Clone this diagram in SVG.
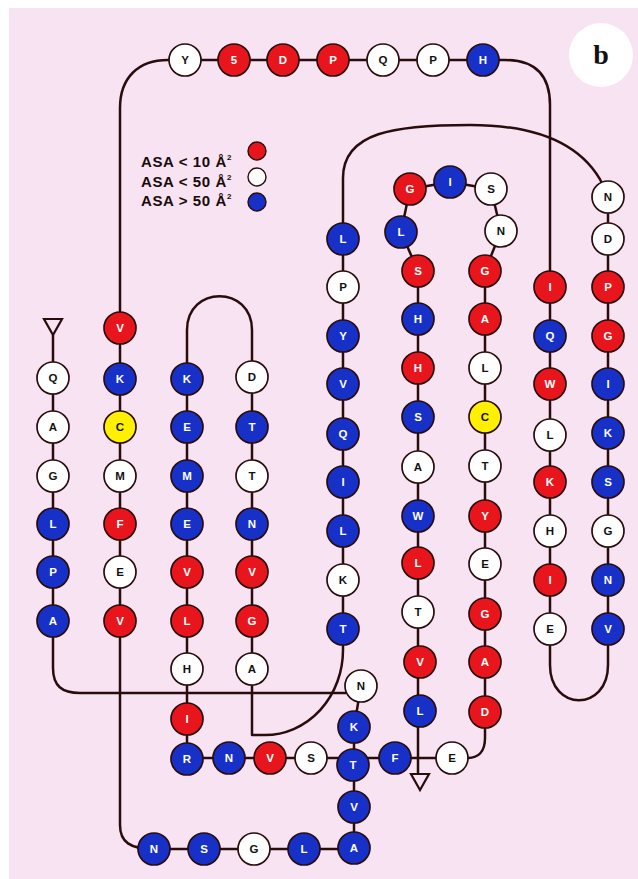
<svg xmlns="http://www.w3.org/2000/svg" width="638" height="879" viewBox="0 0 638 879">
<style>
.ln{fill:none;stroke:#2a0c0c;stroke-width:2.5;stroke-linejoin:round}
.term{fill:none;stroke:#2a0c0c;stroke-width:2.2}
.nd circle{stroke:#2a0c0c;stroke-width:1.7}
.r circle{fill:#e8161c}.b circle{fill:#1630c8}.w circle{fill:#ffffff}.y circle{fill:#fff000}
.nd text{font-family:"Liberation Sans",Arial,sans-serif;font-weight:bold;font-size:11.5px;text-anchor:middle;dominant-baseline:central}
.r text,.b text{fill:#ffffff}.w text,.y text{fill:#111111}
.lg{font-family:"Liberation Sans",Arial,sans-serif;font-weight:bold;font-size:15px;letter-spacing:0.6px;fill:#1a0a0a;text-anchor:end}
</style>
<rect x="0" y="0" width="638" height="879" fill="#ffffff"/>
<rect x="9" y="8" width="629" height="871" fill="#f7e3f1"/>

<!-- label badge -->
<g id="badge">
<circle cx="601" cy="55" r="32" fill="#ffffff"/>
<text x="601" y="64" font-family="Liberation Serif,serif" font-weight="bold" font-size="28" text-anchor="middle" fill="#111">b</text>
</g>

<!-- legend -->
<g id="legend">
<text class="lg" x="232" y="167">ASA &lt; 10 Å<tspan font-size="8" dy="-7">2</tspan></text>
<text class="lg" x="232" y="187">ASA &lt; 50 Å<tspan font-size="8" dy="-7">2</tspan></text>
<text class="lg" x="232" y="206">ASA &gt; 50 Å<tspan font-size="8" dy="-7">2</tspan></text>
<circle cx="257" cy="151" r="9" fill="#e8161c" stroke="#2a0c0c" stroke-width="1.4"/>
<circle cx="257" cy="177" r="9" fill="#ffffff" stroke="#2a0c0c" stroke-width="1.4"/>
<circle cx="257" cy="202" r="9" fill="#1630c8" stroke="#2a0c0c" stroke-width="1.4"/>
</g>

<!-- backbone connectors -->
<g id="connectors">
<polygon class="term" points="44,319 62,319 53,335"/>
<path class="ln" d="M53,335 L53,668 C53,686 62,693 80,693 L346,693"/>
<path class="ln" d="M361,686 L354,727 L354,849 L154,849 C130,849 120,842 120,825 L120,108 C120,78 138,60 168,60 L505,60 C535,60 550,75 550,105 L550,665 C550,712 608,712 608,665 L608,197"/>
<path class="ln" d="M608,197 L603,185 C583,145 540,125 470,125 C395,125 343,132 343,178 L343,650 A78,85 0 0 1 265,735 L252,735 L252,330 C252,285 187,285 187,330 L187,758 L468,758 C478,758 485,752 485,738 L485,271 L501,231 L491,189 L450,182 L410,189 L401,232 L418,271 L418,774"/>
<polygon class="term" points="411,774 429,774 420,790"/>
</g>

<!-- residues -->
<g id="top-row">
<g id="r-Y1" class="nd w" transform="translate(185,60)"><circle r="16"/><text>Y</text></g>
<g id="r-S2" class="nd r" transform="translate(234,60)"><circle r="16"/><text>5</text></g>
<g id="r-D3" class="nd r" transform="translate(283,60)"><circle r="16"/><text>D</text></g>
<g id="r-P4" class="nd r" transform="translate(333,60)"><circle r="16"/><text>P</text></g>
<g id="r-Q5" class="nd w" transform="translate(383,60)"><circle r="16"/><text>Q</text></g>
<g id="r-P6" class="nd w" transform="translate(433,60)"><circle r="16"/><text>P</text></g>
<g id="r-H7" class="nd b" transform="translate(483,60)"><circle r="16"/><text>H</text></g>
</g>

<g id="strand-1">
<g id="s1-Q" class="nd w" transform="translate(53,378)"><circle r="16"/><text>Q</text></g>
<g id="s1-A" class="nd w" transform="translate(53,427)"><circle r="16"/><text>A</text></g>
<g id="s1-G" class="nd w" transform="translate(53,476)"><circle r="16"/><text>G</text></g>
<g id="s1-L" class="nd b" transform="translate(53,524)"><circle r="16"/><text>L</text></g>
<g id="s1-P" class="nd b" transform="translate(53,572)"><circle r="16"/><text>P</text></g>
<g id="s1-A2" class="nd b" transform="translate(53,621)"><circle r="16"/><text>A</text></g>
</g>

<g id="strand-2">
<g id="s2-V" class="nd r" transform="translate(120,328)"><circle r="16"/><text>V</text></g>
<g id="s2-K" class="nd b" transform="translate(120,379)"><circle r="16"/><text>K</text></g>
<g id="s2-C" class="nd y" transform="translate(120,427)"><circle r="16"/><text>C</text></g>
<g id="s2-M" class="nd w" transform="translate(120,476)"><circle r="16"/><text>M</text></g>
<g id="s2-F" class="nd r" transform="translate(120,524)"><circle r="16"/><text>F</text></g>
<g id="s2-E" class="nd w" transform="translate(120,572)"><circle r="16"/><text>E</text></g>
<g id="s2-V2" class="nd r" transform="translate(120,621)"><circle r="16"/><text>V</text></g>
</g>

<g id="strand-3">
<g id="s3-K" class="nd b" transform="translate(187,379)"><circle r="16"/><text>K</text></g>
<g id="s3-E" class="nd b" transform="translate(187,427)"><circle r="16"/><text>E</text></g>
<g id="s3-M" class="nd b" transform="translate(187,476)"><circle r="16"/><text>M</text></g>
<g id="s3-E2" class="nd b" transform="translate(187,524)"><circle r="16"/><text>E</text></g>
<g id="s3-V" class="nd r" transform="translate(187,572)"><circle r="16"/><text>V</text></g>
<g id="s3-L" class="nd r" transform="translate(187,621)"><circle r="16"/><text>L</text></g>
<g id="s3-H" class="nd w" transform="translate(187,669)"><circle r="16"/><text>H</text></g>
<g id="s3-I" class="nd r" transform="translate(187,719)"><circle r="16"/><text>I</text></g>
<g id="s3-R" class="nd b" transform="translate(187,759)"><circle r="16"/><text>R</text></g>
</g>

<g id="strand-4">
<g id="s4-D" class="nd w" transform="translate(252,377)"><circle r="16"/><text>D</text></g>
<g id="s4-T" class="nd b" transform="translate(252,427)"><circle r="16"/><text>T</text></g>
<g id="s4-T2" class="nd w" transform="translate(252,476)"><circle r="16"/><text>T</text></g>
<g id="s4-N" class="nd b" transform="translate(252,524)"><circle r="16"/><text>N</text></g>
<g id="s4-V" class="nd r" transform="translate(252,572)"><circle r="16"/><text>V</text></g>
<g id="s4-G" class="nd r" transform="translate(252,621)"><circle r="16"/><text>G</text></g>
<g id="s4-A" class="nd w" transform="translate(252,669)"><circle r="16"/><text>A</text></g>
</g>

<g id="loop-row">
<g id="lr-N" class="nd b" transform="translate(229,758)"><circle r="16"/><text>N</text></g>
<g id="lr-V" class="nd r" transform="translate(270,758)"><circle r="16"/><text>V</text></g>
<g id="lr-S" class="nd w" transform="translate(311,758)"><circle r="16"/><text>S</text></g>
<g id="lr-F" class="nd b" transform="translate(395,758)"><circle r="16"/><text>F</text></g>
<g id="lr-E" class="nd w" transform="translate(452,758)"><circle r="16"/><text>E</text></g>
</g>

<g id="cross-column">
<g id="cc-N" class="nd w" transform="translate(361,686)"><circle r="16"/><text>N</text></g>
<g id="cc-K" class="nd b" transform="translate(354,727)"><circle r="16"/><text>K</text></g>
<g id="cc-T" class="nd b" transform="translate(353,765)"><circle r="16"/><text>T</text></g>
<g id="cc-V" class="nd b" transform="translate(354,807)"><circle r="16"/><text>V</text></g>
<g id="cc-A" class="nd b" transform="translate(354,848)"><circle r="16"/><text>A</text></g>
</g>

<g id="bottom-row">
<g id="br-N" class="nd b" transform="translate(154,849)"><circle r="16"/><text>N</text></g>
<g id="br-S" class="nd b" transform="translate(204,849)"><circle r="16"/><text>S</text></g>
<g id="br-G" class="nd w" transform="translate(254,849)"><circle r="16"/><text>G</text></g>
<g id="br-L" class="nd b" transform="translate(304,849)"><circle r="16"/><text>L</text></g>
</g>

<g id="strand-5">
<g id="s5-L" class="nd b" transform="translate(343,239)"><circle r="16"/><text>L</text></g>
<g id="s5-P" class="nd w" transform="translate(343,287)"><circle r="16"/><text>P</text></g>
<g id="s5-Y" class="nd b" transform="translate(343,336)"><circle r="16"/><text>Y</text></g>
<g id="s5-V" class="nd b" transform="translate(343,384)"><circle r="16"/><text>V</text></g>
<g id="s5-Q" class="nd b" transform="translate(343,434)"><circle r="16"/><text>Q</text></g>
<g id="s5-I" class="nd b" transform="translate(343,482)"><circle r="16"/><text>I</text></g>
<g id="s5-L2" class="nd b" transform="translate(343,531)"><circle r="16"/><text>L</text></g>
<g id="s5-K" class="nd w" transform="translate(343,580)"><circle r="16"/><text>K</text></g>
<g id="s5-T" class="nd b" transform="translate(343,629)"><circle r="16"/><text>T</text></g>
</g>

<g id="strand-6">
<g id="s6-G" class="nd r" transform="translate(410,189)"><circle r="16"/><text>G</text></g>
<g id="s6-L" class="nd b" transform="translate(401,232)"><circle r="16"/><text>L</text></g>
<g id="s6-S" class="nd r" transform="translate(418,271)"><circle r="16"/><text>S</text></g>
<g id="s6-H" class="nd b" transform="translate(418,319)"><circle r="16"/><text>H</text></g>
<g id="s6-H2" class="nd r" transform="translate(418,368)"><circle r="16"/><text>H</text></g>
<g id="s6-S2" class="nd b" transform="translate(418,417)"><circle r="16"/><text>S</text></g>
<g id="s6-A" class="nd w" transform="translate(418,467)"><circle r="16"/><text>A</text></g>
<g id="s6-W" class="nd b" transform="translate(418,516)"><circle r="16"/><text>W</text></g>
<g id="s6-L2" class="nd r" transform="translate(418,563)"><circle r="16"/><text>L</text></g>
<g id="s6-T" class="nd w" transform="translate(418,612)"><circle r="16"/><text>T</text></g>
<g id="s6-V" class="nd r" transform="translate(420,662)"><circle r="16"/><text>V</text></g>
<g id="s6-L3" class="nd b" transform="translate(420,711)"><circle r="16"/><text>L</text></g>
</g>

<g id="turn-top">
<g id="tt-I" class="nd b" transform="translate(450,182)"><circle r="16"/><text>I</text></g>
<g id="tt-S" class="nd w" transform="translate(491,189)"><circle r="16"/><text>S</text></g>
</g>

<g id="strand-7">
<g id="s7-N" class="nd w" transform="translate(501,231)"><circle r="16"/><text>N</text></g>
<g id="s7-G" class="nd r" transform="translate(485,271)"><circle r="16"/><text>G</text></g>
<g id="s7-A" class="nd r" transform="translate(485,319)"><circle r="16"/><text>A</text></g>
<g id="s7-L" class="nd w" transform="translate(485,368)"><circle r="16"/><text>L</text></g>
<g id="s7-C" class="nd y" transform="translate(485,417)"><circle r="16"/><text>C</text></g>
<g id="s7-T" class="nd w" transform="translate(485,466)"><circle r="16"/><text>T</text></g>
<g id="s7-Y" class="nd r" transform="translate(485,516)"><circle r="16"/><text>Y</text></g>
<g id="s7-E" class="nd w" transform="translate(485,564)"><circle r="16"/><text>E</text></g>
<g id="s7-G2" class="nd r" transform="translate(485,614)"><circle r="16"/><text>G</text></g>
<g id="s7-A2" class="nd r" transform="translate(485,662)"><circle r="16"/><text>A</text></g>
<g id="s7-D" class="nd r" transform="translate(485,712)"><circle r="16"/><text>D</text></g>
</g>

<g id="strand-8">
<g id="s8-I" class="nd r" transform="translate(550,287)"><circle r="16"/><text>I</text></g>
<g id="s8-Q" class="nd b" transform="translate(550,336)"><circle r="16"/><text>Q</text></g>
<g id="s8-W" class="nd r" transform="translate(550,384)"><circle r="16"/><text>W</text></g>
<g id="s8-L" class="nd w" transform="translate(550,435)"><circle r="16"/><text>L</text></g>
<g id="s8-K" class="nd r" transform="translate(550,482)"><circle r="16"/><text>K</text></g>
<g id="s8-H" class="nd w" transform="translate(550,531)"><circle r="16"/><text>H</text></g>
<g id="s8-I2" class="nd r" transform="translate(550,580)"><circle r="16"/><text>I</text></g>
<g id="s8-E" class="nd w" transform="translate(550,629)"><circle r="16"/><text>E</text></g>
</g>

<g id="strand-9">
<g id="s9-N" class="nd w" transform="translate(608,197)"><circle r="16"/><text>N</text></g>
<g id="s9-D" class="nd w" transform="translate(608,239)"><circle r="16"/><text>D</text></g>
<g id="s9-P" class="nd r" transform="translate(608,287)"><circle r="16"/><text>P</text></g>
<g id="s9-G" class="nd r" transform="translate(608,336)"><circle r="16"/><text>G</text></g>
<g id="s9-I" class="nd b" transform="translate(608,384)"><circle r="16"/><text>I</text></g>
<g id="s9-K" class="nd b" transform="translate(608,433)"><circle r="16"/><text>K</text></g>
<g id="s9-S" class="nd b" transform="translate(608,482)"><circle r="16"/><text>S</text></g>
<g id="s9-G2" class="nd w" transform="translate(608,531)"><circle r="16"/><text>G</text></g>
<g id="s9-N2" class="nd b" transform="translate(608,580)"><circle r="16"/><text>N</text></g>
<g id="s9-V" class="nd b" transform="translate(608,629)"><circle r="16"/><text>V</text></g>
</g>
</svg>
